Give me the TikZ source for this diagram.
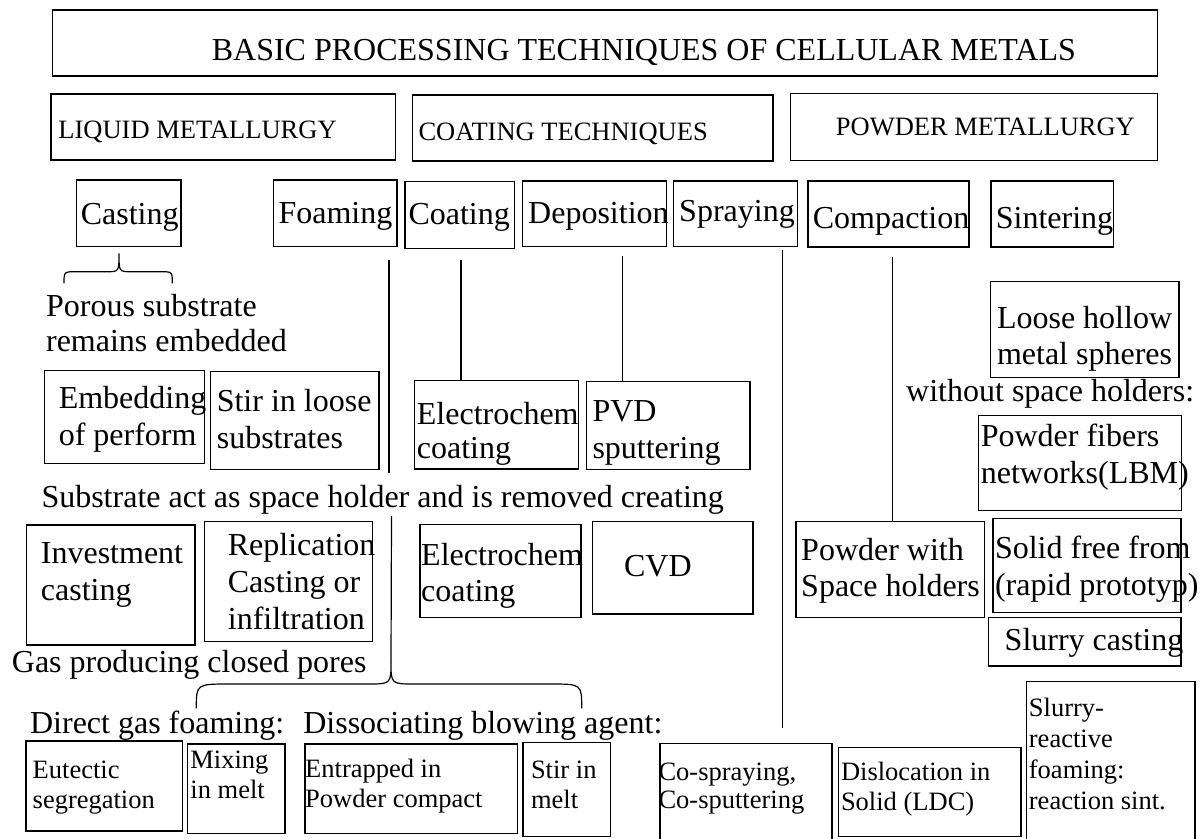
\documentclass[tikz,border=0pt]{standalone}
\usepackage{fontspec}
\setmainfont{Liberation Serif}
\usetikzlibrary{fit}
% first baseline of a stacked label sits on the node's base anchor
\newcommand{\txtlines}[1]{\begin{tabular}[t]{@{}l@{}}#1\end{tabular}}
\begin{document}
\begin{tikzpicture}[x=1pt,y=-1pt,
  box/.style={draw, line width=1.3pt, inner sep=0pt},
  lbl/.style={inner sep=0pt, anchor=base west},
  big/.style={lbl, font=\fontsize{32}{36.7}\selectfont},
  mid/.style={lbl, font=\fontsize{26.5}{30}\selectfont},
  link/.style={line width=1.2pt},
  brace/.style={line width=1.2pt}]
\useasboundingbox (0,0) rectangle (1204,838);
\clip (0,0) rectangle (1204,838);

% ---------- frames ----------
\node[box, fit={(52.4,10) (1157.4,76)}] (b-title) {};
\node[box, fit={(51,94) (395.3,160)}] (b-liquid) {};
\node[box, fit={(412.5,95) (773,161)}] (b-coattech) {};
\node[box, fit={(790.3,93.7) (1157.8,160.3)}] (b-powder) {};

\node[box, fit={(76.5,180) (181,246.7)}] (b-casting) {};
\node[box, fit={(273.2,180) (396.9,246.7)}] (b-foaming) {};
\node[box, fit={(404.9,181.7) (514.7,248.3)}] (b-coating) {};
\node[box, fit={(522.4,181) (666.6,246.7)}] (b-deposition) {};
\node[box, fit={(673.6,181) (797.2,246.7)}] (b-spraying) {};
\node[box, fit={(808,181) (969,247)}] (b-compaction) {};
\node[box, fit={(991,181) (1113.5,247)}] (b-sintering) {};

\node[box, fit={(990.2,281.7) (1179,377.3)}] (b-hollow) {};
\node[box, fit={(44.8,370.7) (204.7,463.3)}] (b-embed) {};
\node[box, fit={(210.5,371.7) (378.9,469.3)}] (b-stirloose) {};
\node[box, fit={(414.3,380.7) (578.3,469)}] (b-elec1) {};
\node[box, fit={(586.7,381.3) (750.1,469.3)}] (b-pvd) {};
\node[box, fit={(978.3,415.7) (1181.7,510.7)}] (b-fibers) {};

\node[box, fit={(26.7,525) (195,645)}] (b-invest) {};
\node[box, fit={(204.3,521.7) (372.7,641.7)}] (b-replic) {};
\node[box, fit={(420,524.3) (581,617.3)}] (b-elec2) {};
\node[box, fit={(592.3,521.7) (753,614)}] (b-cvd) {};
\node[box, fit={(796,521.7) (984.4,617.3)}] (b-pwith) {};
\node[box, fit={(993,518.3) (1180.9,612.7)}] (b-solid) {};
\node[box, fit={(988.3,617.7) (1180.9,666)}] (b-slurry) {};

\node[box, fit={(26,741) (182.2,831)}] (b-eutectic) {};
\node[box, fit={(187.5,744) (285.1,833.3)}] (b-mixing) {};
\node[box, fit={(305,744) (517.5,833.3)}] (b-entrap) {};
\node[box, fit={(523,742.3) (610.7,836.7)}] (b-stirmelt) {};
\node[box, fit={(660,743.3) (832,850)}] (b-cospray) {};
\node[box, fit={(838.5,747.8) (1021,836.7)}] (b-disloc) {};
\node[box, fit={(1026.7,681.7) (1195,850)}] (b-reactive) {};

% ---------- labels ----------
\node[big] (t-title) at (211.6,60) {BASIC PROCESSING TECHNIQUES OF CELLULAR METALS};
\node[mid] (t-liquid) at (58.2,138.3) {LIQUID METALLURGY};
\node[mid] (t-coattech) at (418.3,140) {COATING TECHNIQUES};
\node[mid] (t-powder) at (835.7,135) {POWDER METALLURGY};

\node[big] (t-casting) at (80.6,224.5) {Casting};
\node[big] (t-foaming) at (278.3,223.3) {Foaming};
\node[big] (t-coating) at (408.3,224) {Coating};
\node[big] (t-deposition) at (528,223) {Deposition};
\node[big] (t-spraying) at (679,221.5) {Spraying};
\node[big] (t-compaction) at (812.6,228) {Compaction};
\node[big] (t-sintering) at (995.6,228.5) {Sintering};

\node[big, font=\fontsize{32}{35}\selectfont] (t-porous) at (45.9,316.7) {\txtlines{Porous substrate\\remains embedded}};
\node[big] (t-hollow) at (996.8,328) {\txtlines{Loose hollow\\metal spheres}};
\node[big] (t-without) at (906,401.7) {without space holders:};
\node[big] (t-embed) at (58.6,408.3) {\txtlines{Embedding\\of perform}};
\node[big] (t-stirloose) at (216.6,411.7) {\txtlines{Stir in loose\\substrates}};
\node[big, font=\fontsize{32}{34.3}\selectfont] (t-elec1) at (416.7,424) {\txtlines{Electrochem\\coating}};
\node[big] (t-pvd) at (592.3,421.7) {\txtlines{PVD\\sputtering}};
\node[big] (t-fibers) at (980.6,446.7) {\txtlines{Powder fibers\\networks(LBM)}};

\node[big] (t-substrate) at (41.3,507.3) {Substrate act as space holder and is removed creating};

\node[big] (t-invest) at (40.7,563.3) {\txtlines{Investment\\casting}};
\node[big, font=\fontsize{32}{37.2}\selectfont] (t-replic) at (227.7,555) {\txtlines{Replication\\Casting or\\infiltration}};
\node[big] (t-elec2) at (421,565) {\txtlines{Electrochem\\coating}};
\node[big] (t-cvd) at (623.9,576.7) {CVD};
\node[big] (t-pwith) at (801,560) {\txtlines{Powder with\\Space holders}};
\node[big] (t-solid) at (994.8,558.3) {\txtlines{Solid free from\\(rapid prototyp)}};
\node[big] (t-slurry) at (1004.5,650) {Slurry casting};

\node[big] (t-gas) at (11.7,672.7) {Gas producing closed pores};
\node[big] (t-direct) at (29.9,733.3) {Direct gas foaming:};
\node[big] (t-dissoc) at (303.1,733.3) {Dissociating blowing agent:};

\node[mid] (t-eutectic) at (32.5,778.3) {\txtlines{Eutectic\\segregation}};
\node[mid] (t-mixing) at (190.2,768.3) {\txtlines{Mixing\\in melt}};
\node[mid] (t-entrap) at (305,777.3) {\txtlines{Entrapped in\\Powder compact}};
\node[mid] (t-stirmelt) at (530.8,778.3) {\txtlines{Stir in\\melt}};
\node[mid, font=\fontsize{26.5}{28.3}\selectfont] (t-cospray) at (658.3,780) {\txtlines{Co-spraying,\\Co-sputtering}};
\node[mid] (t-disloc) at (840.8,780) {\txtlines{Dislocation in\\Solid (LDC)}};
\node[mid, font=\fontsize{26.5}{31}\selectfont] (t-reactive) at (1028.7,716.7) {\txtlines{Slurry-\\reactive\\foaming:\\reaction sint.}};

% ---------- connectors ----------
\coordinate (foam-top) at (389,260);
\coordinate (foam-mid) at (389,473.3);
\coordinate (foam-low) at (391.5,516);
\coordinate (foam-tip) at (391,662);
\coordinate (coat-top) at (461,260);
\coordinate (dep-top) at (622.2,256);
\coordinate (spray-top) at (782.7,250);
\coordinate (spray-end) at (782.7,728.3);
\coordinate (comp-top) at (892.8,257.3);

\draw[link] (foam-top) -- (foam-mid);
\draw[link] (foam-low) -- (foam-tip);
\draw[link] (coat-top) -- (coat-top |- b-elec1.north);
\draw[link] (dep-top) -- (dep-top |- b-pvd.north);
\draw[link] (spray-top) -- (spray-end);
\draw[link] (comp-top) -- (comp-top |- b-pwith.north);

% ---------- braces ----------
\coordinate (cast-tip) at (119,253.3);
\draw[brace] (64,283.3) .. controls (64,271.7) .. (76,271.7) -- (107,271.7)
  .. controls (119,271.7) .. (cast-tip)
  .. controls (119,271.7) .. (131,271.7) -- (160.3,271.7)
  .. controls (172.3,271.7) .. (172.3,283.3);
\draw[brace] (196.3,708.3) .. controls (196.3,684) .. (230,684) -- (367,684)
  .. controls (391,684) .. (foam-tip)
  .. controls (391,684) .. (415,684) -- (550,684)
  .. controls (581.7,684) .. (581.7,708.3);
\end{tikzpicture}
\end{document}
